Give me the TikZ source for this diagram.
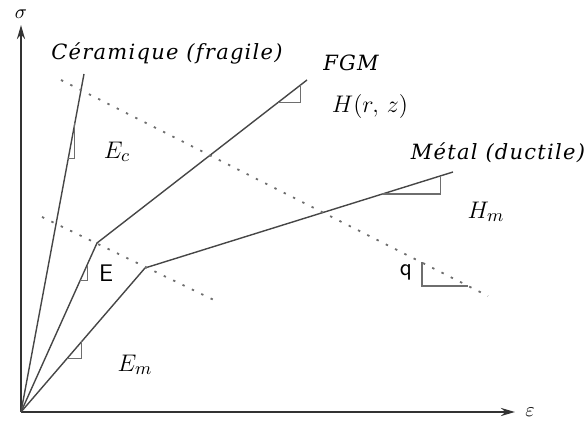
\documentclass[tikz,border=0pt]{standalone}
\usepackage{amsmath}
\usepackage{fontspec}
\usepackage{tikz}
\usetikzlibrary{calc, arrows.meta}
\newfontfamily\labelfont[LetterSpace=6]{DejaVu Serif}
\definecolor{curve}{RGB}{70,70,70}
\definecolor{guide}{RGB}{110,110,110}

\begin{document}
\begin{tikzpicture}[x=0.5pt, y=0.5pt,
      axis/.style={line width=1.2pt, draw=black!80, -{Stealth[length=7pt,width=4pt]}},
      law/.style={draw=curve, line width=0.7pt},
      slope/.style={draw=guide, line width=0.6pt},
      front/.style={draw=guide, line width=0.9pt, dash pattern=on 1.2pt off 4pt},
      matname/.style={font=\labelfont\itshape\fontsize{10.5}{12}\selectfont, inner sep=1pt},
      modulus/.style={font=\fontsize{13}{15}\selectfont, inner sep=1pt}
    ]
    \useasboundingbox (0,0) rectangle (586,423);

    % Axes
    \coordinate (origin) at (21,11);
    \coordinate (stop) at (21,398);
    \coordinate (etop) at (515,11);
    \draw[axis] (origin) -- (stop);
    \draw[axis] (origin) -- (etop);
    \node (sigma) at (21,409) {$\sigma$};
    \node (eps) at (530,11) {$\varepsilon$};

    % Material laws
    \coordinate (cend) at (84,349);
    \coordinate (fknee) at (97,180);
    \coordinate (fend) at (307,343);
    \coordinate (mknee) at (145,155);
    \coordinate (mend) at (453,251);
    \draw[law] (origin) -- (cend);
    \draw[law] (origin) -- (fknee) -- (fend);
    \draw[law] (origin) -- (mknee) -- (mend);

    % Yield fronts
    \coordinate (fronta) at (61,343);
    \coordinate (frontb) at (488,127);
    \coordinate (frontc) at (42,206);
    \coordinate (frontd) at (218,121);
    \draw[front] (fronta) -- (frontb);
    \draw[front] (frontc) -- (frontd);

    % Slope triangles
    \draw[slope] ($(origin)!0.75!(cend)$) -| ($(origin)!0.855!(cend)$);
    \draw[slope] ($(origin)!0.78!(fknee)$) -| ($(origin)!0.87!(fknee)$);
    \draw[slope] ($(fknee)!0.86!(fend)$) -| ($(fknee)!0.97!(fend)$);
    \draw[slope] ($(origin)!0.37!(mknee)$) -| ($(origin)!0.49!(mknee)$);
    \draw[slope] ($(mknee)!0.77!(mend)$) -| ($(mknee)!0.96!(mend)$);
    \coordinate (qtop) at (422,161);
    \coordinate (qend) at (468,137);
    \draw[slope] (qtop) |- (qend);

    % Labels
    \node[matname] (cer) at (167,370) {Céramique (fragile)};
    \node[matname] (fgm) at (351,360) {FGM};
    \node[matname] (met) at (498,270) {Métal (ductile)};
    \node[modulus] (ec) at (117,271) {$E_c$};
    \node[modulus] (hrz) at (370,316) {$H(r,\,z)$};
    \node[modulus] (hm) at (486,211) {$H_m$};
    \node[modulus] (em) at (135,58) {$E_m$};
    \node[font=\sffamily\large] (e) at (106,150) {E};
    \node[font=\sffamily\large] (q) at (406,151) {q};

\end{tikzpicture}
\end{document}
